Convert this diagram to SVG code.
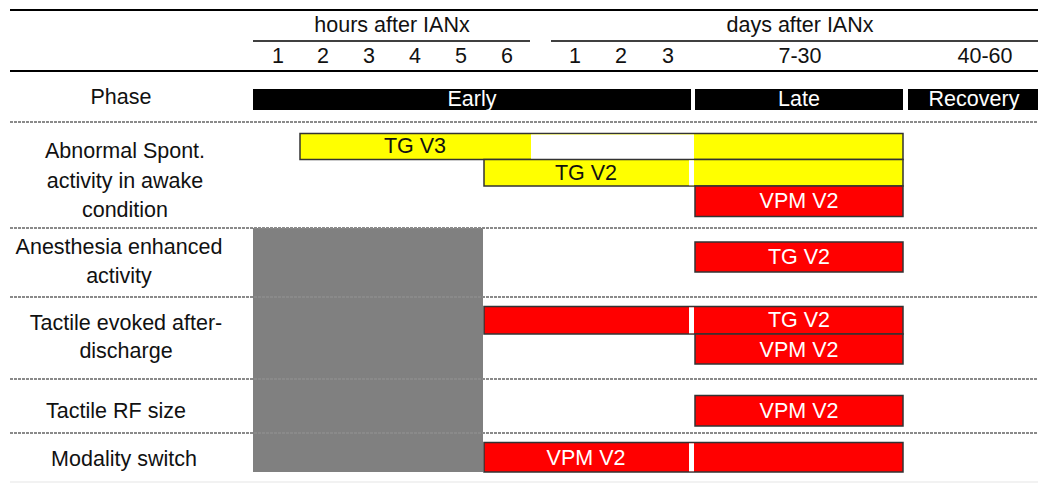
<svg xmlns="http://www.w3.org/2000/svg" width="1038" height="483" viewBox="0 0 1038 483">
<style>
text{font-family:"Liberation Sans",Arial,sans-serif;font-size:21.5px;fill:#111;text-anchor:middle}
.w{fill:#fff}
.rule{stroke:#000;stroke-width:2}
.dot{stroke:#8a8a8a;stroke-width:2;stroke-dasharray:3 1}
.y{fill:#ffff00;stroke:#333;stroke-width:1.5}
.r{fill:#ff0000;stroke:#333;stroke-width:1.5}
.ph{fill:#000}
</style>
<rect width="1038" height="483" fill="#fff"/>
<g id="header">
<line class="rule" x1="10" y1="10" x2="1038" y2="10"/>
<text x="392" y="32">hours after IANx</text>
<text x="800" y="32">days after IANx</text>
<line x1="253" y1="41" x2="530" y2="41" stroke="#000" stroke-width="1.5"/>
<line x1="551" y1="41" x2="1038" y2="41" stroke="#000" stroke-width="1.5"/>
<text x="278" y="63">1</text><text x="323" y="63">2</text><text x="369" y="63">3</text>
<text x="415" y="63">4</text><text x="461" y="63">5</text><text x="507" y="63">6</text>
<text x="575" y="63">1</text><text x="621" y="63">2</text><text x="668" y="63">3</text>
<text x="800" y="63">7-30</text><text x="985" y="63">40-60</text>
<line class="rule" x1="10" y1="71" x2="1038" y2="71"/>
</g>
<g id="phase">
<text x="121" y="104">Phase</text>
<rect class="ph" x="253" y="89" width="438" height="21"/>
<rect class="ph" x="695" y="89" width="208" height="21"/>
<rect class="ph" x="908" y="89" width="130" height="21"/>
<text class="w" x="472" y="106">Early</text>
<text class="w" x="799" y="106">Late</text>
<text class="w" x="974" y="106">Recovery</text>
</g>
<rect id="na-block" x="253" y="228" width="230" height="244" fill="#808080"/>
<g id="row-spont">
<text x="125" y="158">Abnormal Spont.</text>
<text x="125" y="188">activity in awake</text>
<text x="125" y="217">condition</text>
<rect class="y" x="300" y="133.5" width="603" height="26"/>
<rect x="531" y="134.5" width="163" height="24.5" fill="#fff"/>
<rect class="y" x="484" y="159.5" width="419" height="26.5"/>
<rect x="689" y="160.3" width="5" height="25" fill="#fff"/>
<rect class="r" x="695" y="186" width="208" height="30.5"/>
<text x="415" y="153">TG V3</text>
<text x="586" y="180">TG V2</text>
<text class="w" x="799" y="208">VPM V2</text>
</g>
<g id="row-anesthesia">
<text x="119" y="254">Anesthesia enhanced</text>
<text x="119" y="283">activity</text>
<rect class="r" x="695" y="242" width="208" height="30"/>
<text class="w" x="799" y="264">TG V2</text>
</g>
<g id="row-afterdischarge">
<text x="126" y="330">Tactile evoked after-</text>
<text x="126" y="358">discharge</text>
<rect class="r" x="484" y="306.5" width="419" height="27.5"/>
<rect x="689" y="307.3" width="5" height="26" fill="#fff"/>
<rect class="r" x="695" y="334" width="208" height="30"/>
<text class="w" x="799" y="327">TG V2</text>
<text class="w" x="799" y="357">VPM V2</text>
</g>
<g id="row-rf">
<text x="116" y="418">Tactile RF size</text>
<rect class="r" x="695" y="395.5" width="208" height="30.5"/>
<text class="w" x="799" y="418">VPM V2</text>
</g>
<g id="row-modality">
<text x="124" y="466">Modality switch</text>
<rect class="r" x="484" y="442.5" width="419" height="29.5"/>
<rect x="689" y="443.3" width="5" height="28" fill="#fff"/>
<text class="w" x="586" y="465">VPM V2</text>
</g>
<g id="separators">
<line class="dot" x1="10" y1="122" x2="1038" y2="122"/>
<line class="dot" x1="10" y1="228" x2="1038" y2="228"/>
<line class="dot" x1="10" y1="297" x2="1038" y2="297"/>
<line class="dot" x1="10" y1="379" x2="1038" y2="379"/>
<line class="dot" x1="10" y1="433" x2="1038" y2="433"/>
<line x1="10" y1="482" x2="1038" y2="482" stroke="#eee" stroke-width="1.5"/>
</g>
</svg>
